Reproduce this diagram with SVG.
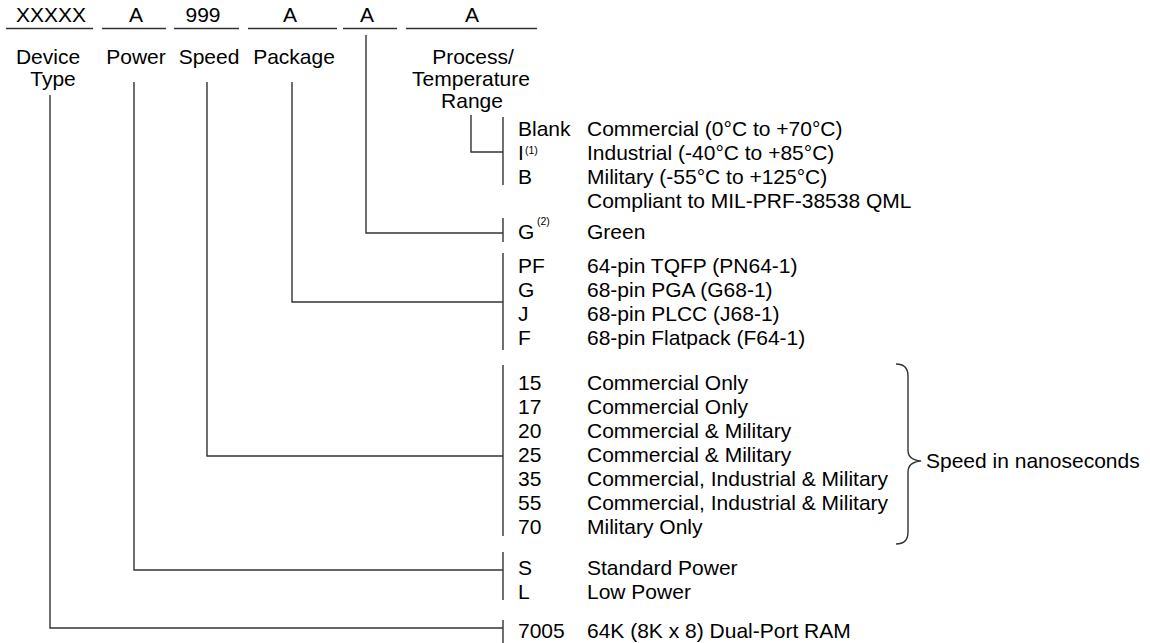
<svg xmlns="http://www.w3.org/2000/svg" width="1150" height="643" viewBox="0 0 1150 643">
<style>
text{font-family:"Liberation Sans",Arial,sans-serif;font-size:21px;fill:#000}
.c{text-anchor:middle}
.sup{font-size:10.5px}
.ln{stroke:#333;stroke-width:1.4;fill:none}
</style>
<rect width="1150" height="643" fill="#fff"/>
<g id="header">
<text class="c" x="51" y="22">XXXXX</text>
<text class="c" x="136" y="22">A</text>
<text class="c" x="203" y="22">999</text>
<text class="c" x="290" y="22">A</text>
<text class="c" x="367" y="22">A</text>
<text class="c" x="472" y="22">A</text>
<g class="ln">
<line x1="6" y1="28.5" x2="93" y2="28.5"/>
<line x1="102" y1="28.5" x2="166" y2="28.5"/>
<line x1="174" y1="28.5" x2="239" y2="28.5"/>
<line x1="248" y1="28.5" x2="337" y2="28.5"/>
<line x1="343" y1="28.5" x2="397" y2="28.5"/>
<line x1="406" y1="28.5" x2="537" y2="28.5"/>
</g>
</g>
<g id="labels">
<text class="c" x="48" y="64">Device</text>
<text class="c" x="53" y="86">Type</text>
<text class="c" x="136" y="64">Power</text>
<text class="c" x="209" y="64">Speed</text>
<text class="c" x="294" y="64">Package</text>
<text class="c" x="473" y="64">Process/</text>
<text class="c" x="471" y="86">Temperature</text>
<text class="c" x="472" y="108">Range</text>
</g>
<g id="connectors" class="ln">
<polyline points="50,95 50,628 503,628"/>
<line x1="503" y1="620" x2="503" y2="643"/>
<polyline points="134,82 134,570 503,570"/>
<line x1="503" y1="552" x2="503" y2="600"/>
<polyline points="207,82 207,456 503,456"/>
<line x1="503" y1="365" x2="503" y2="536"/>
<polyline points="292,82 292,302 503,302"/>
<line x1="503" y1="253" x2="503" y2="350"/>
<polyline points="366,35 366,233 503,233"/>
<line x1="503" y1="218" x2="503" y2="242"/>
<polyline points="471,115 471,152 503,152"/>
<line x1="503" y1="117" x2="503" y2="185"/>
<path d="M896 364 Q908 364 908 376 L908 450 Q908 460 921 461 Q908 462 908 472 L908 532 Q908 544 896 544"/>
</g>
<g id="process">
<text x="518" y="136">Blank</text><text x="587" y="136">Commercial (0°C to +70°C)</text>
<text x="518" y="160">I</text><text class="sup" x="525" y="154">(1)</text><text x="587" y="160">Industrial (-40°C to +85°C)</text>
<text x="518" y="184">B</text><text x="587" y="184">Military (-55°C to +125°C)</text>
<text x="587" y="208">Compliant to MIL-PRF-38538 QML</text>
<text x="518" y="239">G</text><text class="sup" x="537" y="225">(2)</text><text x="587" y="239">Green</text>
</g>
<g id="package">
<text x="518" y="273">PF</text><text x="587" y="273">64-pin TQFP (PN64-1)</text>
<text x="518" y="297">G</text><text x="587" y="297">68-pin PGA (G68-1)</text>
<text x="518" y="321">J</text><text x="587" y="321">68-pin PLCC (J68-1)</text>
<text x="518" y="345">F</text><text x="587" y="345">68-pin Flatpack (F64-1)</text>
</g>
<g id="speed">
<text x="518" y="390">15</text><text x="587" y="390">Commercial Only</text>
<text x="518" y="414">17</text><text x="587" y="414">Commercial Only</text>
<text x="518" y="438">20</text><text x="587" y="438">Commercial &amp; Military</text>
<text x="518" y="462">25</text><text x="587" y="462">Commercial &amp; Military</text>
<text x="518" y="486">35</text><text x="587" y="486">Commercial, Industrial &amp; Military</text>
<text x="518" y="510">55</text><text x="587" y="510">Commercial, Industrial &amp; Military</text>
<text x="518" y="534">70</text><text x="587" y="534">Military Only</text>
<text x="926" y="468">Speed in nanoseconds</text>
</g>
<g id="power">
<text x="518" y="575">S</text><text x="587" y="575">Standard Power</text>
<text x="518" y="599">L</text><text x="587" y="599">Low Power</text>
</g>
<g id="device">
<text x="518" y="638">7005</text><text x="587" y="638">64K (8K x 8) Dual-Port RAM</text>
</g>
</svg>
